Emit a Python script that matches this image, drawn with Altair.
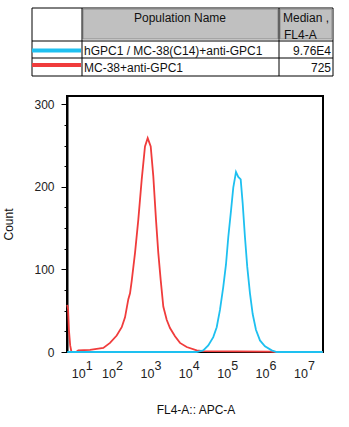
import altair as alt
import pandas as pd
import numpy as np

# ---- data ----
# log10(FL4-A) positions and counts
red_x = [0.99, 1.01, 1.03, 1.06, 1.09, 1.20, 1.252, 1.528, 1.842, 2.0, 2.158, 2.276, 2.354, 2.432,
         2.472, 2.512, 2.59, 2.667, 2.748, 2.825, 2.889, 2.96, 3.021, 3.085, 3.139, 3.196,
         3.257, 3.337, 3.415, 3.533, 3.651, 3.809, 4.045, 4.2, 5.77, 5.92, 7.02]
red_y = [57, 52, 27, 8, 0, 0, 2, 2.6, 5, 11, 20, 30, 42, 64,
         71, 86, 120, 160, 209, 249, 259, 249, 213, 160, 120, 87,
         55, 39, 29, 19, 11, 6, 2, 1, 0.5, 0, 0]
blue_x = [0.99, 4.045, 4.2, 4.318, 4.436, 4.517, 4.594, 4.672, 4.736, 4.79, 4.854, 4.908,
          4.972, 5.026, 5.083, 5.13, 5.184, 5.238, 5.302, 5.366, 5.443, 5.538, 5.656,
          5.814, 5.932, 7.02]
blue_y = [0, 0, 2, 8, 18, 30, 51, 79, 106, 139, 171, 199,
          218, 212, 209, 180, 139, 103, 71, 46, 27, 14, 7,
          2, 0, 0]

pop_names = ["hGPC1 / MC-38(C14)+anti-GPC1", "MC-38+anti-GPC1"]
pop_medians = ["9.76E4", "725"]
pop_colors = ["#1ec0f0", "#f03c3c"]

decades = [1, 2, 3, 4, 5, 6, 7]
y_ticks = list(range(0, 301, 25))
x_title = "FL4-A:: APC-A"

FONT = "Liberation Sans"

hist = pd.concat([
    pd.DataFrame({"series": pop_names[1], "lx": red_x, "count": red_y, "order": range(len(red_x))}),
    pd.DataFrame({"series": pop_names[0], "lx": blue_x, "count": blue_y, "order": range(len(blue_x))}),
])
pops = pd.DataFrame({"name": pop_names, "median": pop_medians})
dec = pd.DataFrame({"n": decades, "base": ["10"] * len(decades), "exp": [str(d) for d in decades]})
one = pd.DataFrame({"a": [0]})

x_minor = sorted(set([round(n + np.log10(k), 6) for n in range(1, 7) for k in range(1, 10)] + [7.0]))
xscale = alt.Scale(domain=[0.985, 7.025], nice=False, zero=False)

x_tick_size = {"condition": {"test": "abs(datum.value - round(datum.value)) < 0.000001", "value": 6}, "value": 3}
y_tick_size = {"condition": {"test": "datum.value % 100 === 0", "value": 6}, "value": 3}

lines = alt.Chart(hist).mark_line(strokeWidth=1.8, interpolate="linear").encode(
    x=alt.X("lx:Q", scale=xscale,
            axis=alt.Axis(values=x_minor, labels=False, tickSize=x_tick_size, tickColor="black",
                          tickWidth=1, domainColor="black", domainWidth=2, grid=False, title=None)),
    y=alt.Y("count:Q", scale=alt.Scale(domain=[0, 310], nice=False),
            axis=alt.Axis(values=y_ticks, labelExpr="datum.value % 100 === 0 ? datum.label : ''",
                          tickSize=y_tick_size, tickColor="black", tickWidth=1,
                          domainColor="black", domainWidth=2, grid=False,
                          labelFont=FONT, labelFontSize=12, labelColor="#222", labelPadding=7,
                          title="Count", titleFont=FONT, titleFontSize=12,
                          titleFontWeight="normal", titleColor="#111", titlePadding=18)),
    color=alt.Color("series:N", scale=alt.Scale(domain=pop_names, range=pop_colors), legend=None),
    order=alt.Order("order:Q"),
)

base_dx = "datum.n == 1 ? 11 : -4 * (datum.n - 2) - 1"
ten_labels = alt.Chart(dec).mark_text(font=FONT, fontSize=12.5, color="#222", baseline="middle",
                                      dx=alt.ExprRef(base_dx)).encode(
    x=alt.X("n:Q", scale=xscale, axis=None),
    y=alt.value(278),
    text="base:N",
)
exp_labels = alt.Chart(dec).mark_text(font=FONT, fontSize=12.5, color="#222", baseline="middle",
                                      dx=alt.ExprRef("(" + base_dx + ") + 10.5")).encode(
    x=alt.X("n:Q", scale=xscale, axis=None),
    y=alt.value(269.5),
    text="exp:N",
)

# ---- legend table ----
def rect(x, x2, y, y2, fill, stroke, sw=1):
    return alt.Chart(one).mark_rect(fill=fill, stroke=stroke, strokeWidth=sw).encode(
        x=alt.value(x), x2=alt.value(x2), y=alt.value(y), y2=alt.value(y2))

def rule(x, x2, y, y2, sw=1, color="black"):
    return alt.Chart(one).mark_rule(color=color, strokeWidth=sw).encode(
        x=alt.value(x), x2=alt.value(x2), y=alt.value(y), y2=alt.value(y2))

table_box = rect(-35, 266, -88, -20, "white", "black")
head1 = rect(16, 211, -87, -57, "#c0c0c0", "#8a8a8a")
head2 = rect(213, 265, -87, -57, "#c0c0c0", "#8a8a8a")
col1 = rule(15, 15, -88, -20)
col2 = rule(212, 212, -88, -20)
row1 = rule(-35, 266, -55, -55)
row2 = rule(-35, 266, -38, -38)

def txt(s, x, y, align="left", baseline="middle"):
    return alt.Chart(pd.DataFrame({"t": [s]})).mark_text(
        font=FONT, fontSize=12, color="#111", align=align, baseline=baseline).encode(
        x=alt.value(x), y=alt.value(y), text="t:N")

h_pop = txt("Population Name", 113, -78, align="center")
h_med = txt("Median ,", 216, -78)
h_fl = txt("FL4-A", 217, -66, baseline="top")
x_title_mark = txt(x_title, 129, 314, align="center")

row_y_text = alt.Y("name:N", scale=alt.Scale(type="point", domain=pop_names, range=[-45, -28], padding=0), axis=None)
row_y_line = alt.Y("name:N", scale=alt.Scale(type="point", domain=pop_names, range=[-45.5, -31], padding=0), axis=None)

leg_lines = alt.Chart(pops).mark_rule(strokeWidth=4).encode(
    x=alt.value(-35), x2=alt.value(14), y=row_y_line,
    color=alt.Color("name:N", scale=alt.Scale(domain=pop_names, range=pop_colors), legend=None),
)
leg_names = alt.Chart(pops).mark_text(font=FONT, fontSize=12, color="#111", align="left", baseline="middle").encode(
    x=alt.value(17), y=row_y_text, text="name:N")
leg_meds = alt.Chart(pops).mark_text(font=FONT, fontSize=12, color="#111", align="right", baseline="middle").encode(
    x=alt.value(264), y=row_y_text, text="median:N")

chart = alt.layer(
    lines, ten_labels, exp_labels, x_title_mark,
    table_box, head1, head2, col1, col2, row1, row2,
    h_pop, h_med, h_fl, leg_lines, leg_names, leg_meds,
).resolve_scale(y="independent", color="independent").properties(
    width=256, height=256,
    autosize=alt.AutoSizeParams(type="none"),
    padding={"left": 67, "top": 96, "right": 26, "bottom": 75},
    background="white",
).configure_view(stroke="black", strokeWidth=2)

chart.save("out.html", embed_options={"renderer": "svg", "actions": False})
